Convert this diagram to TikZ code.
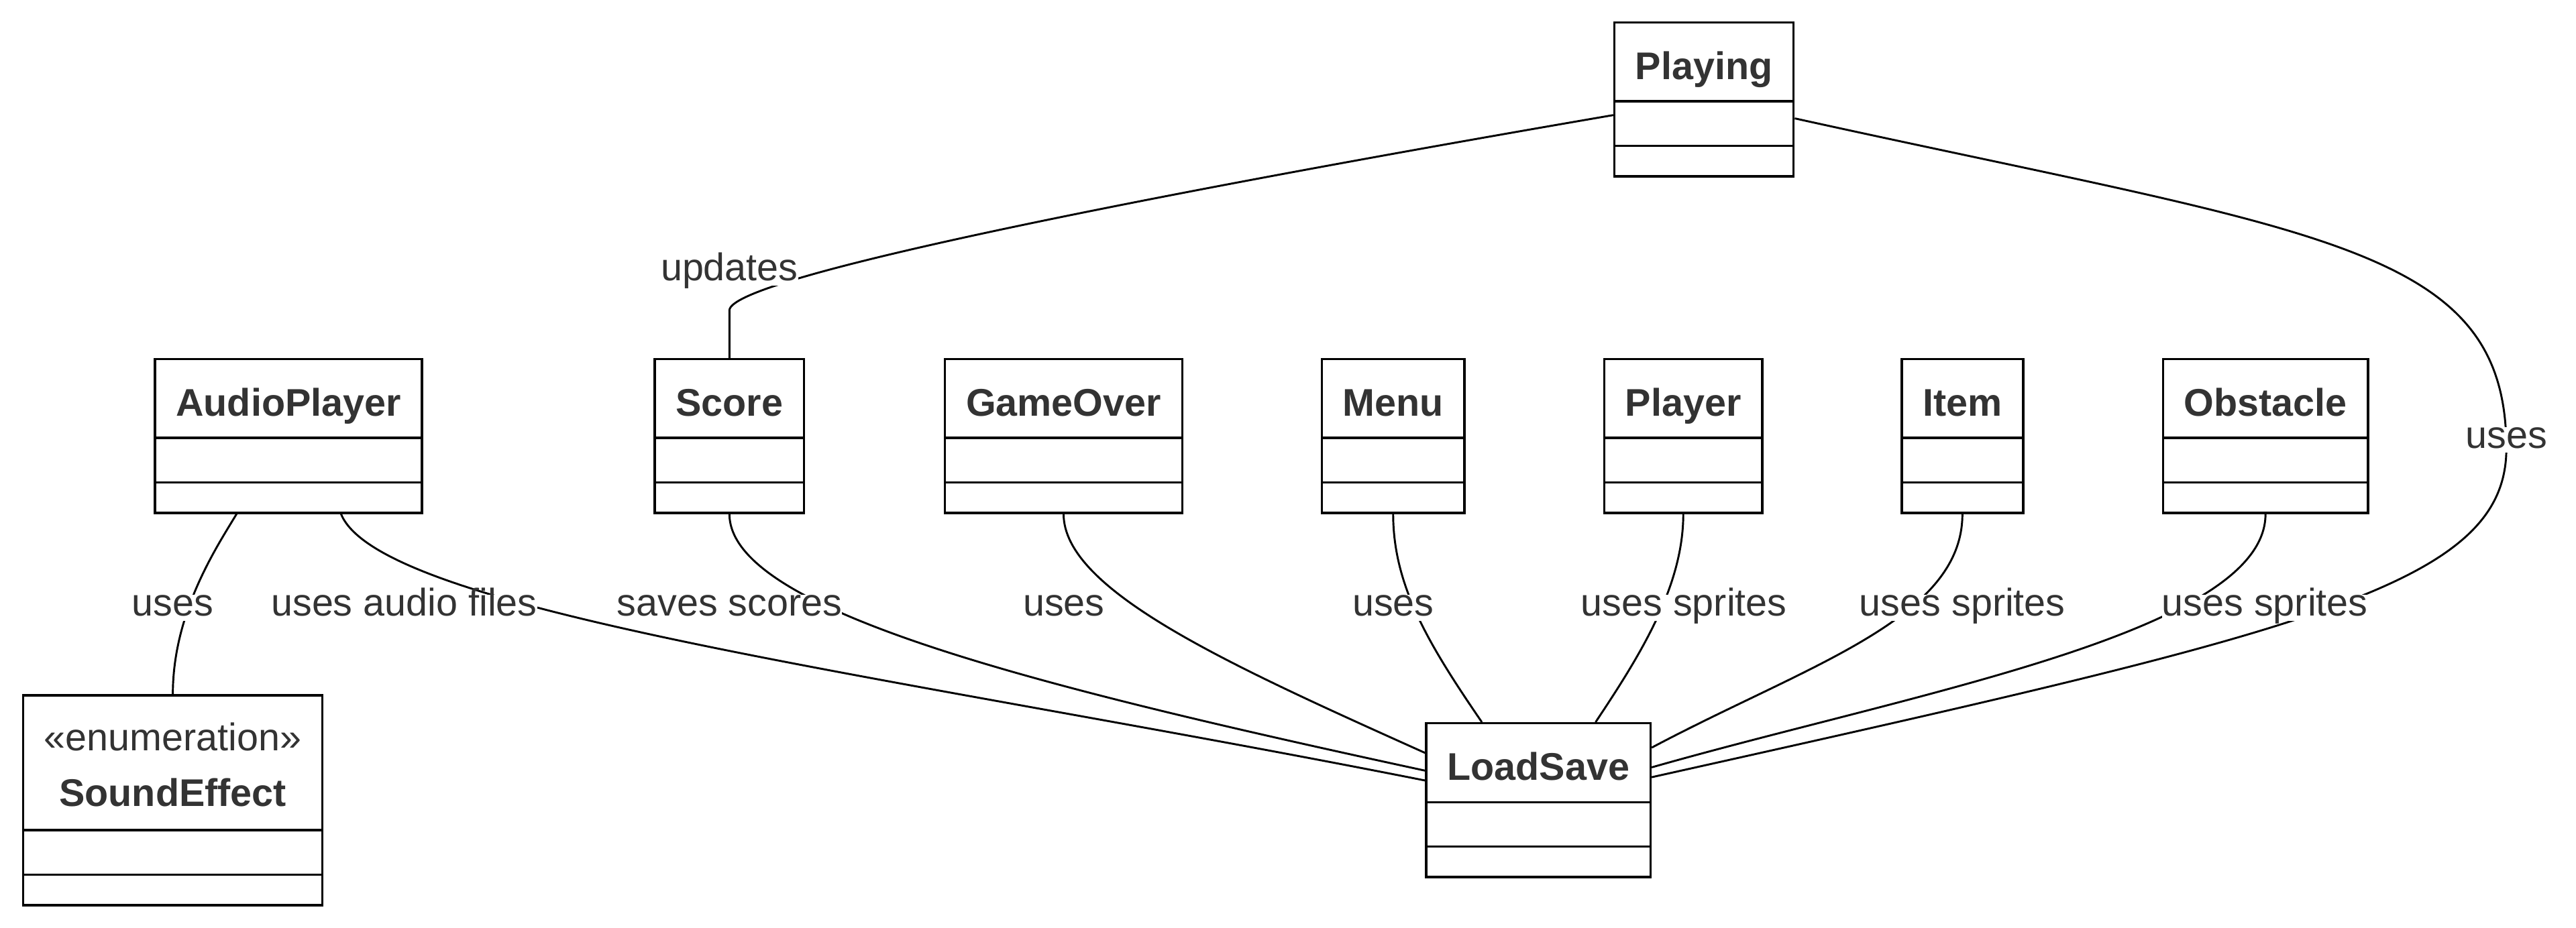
\documentclass[tikz,border=0pt]{standalone}
\usepackage{fontspec}
\setmainfont{Liberation Sans}
\usetikzlibrary{shapes.multipart}
\definecolor{umlText}{HTML}{333333}

% class compartments
\newcommand{\classtitle}[1]{\rule[-0.315cm]{0pt}{1.165cm}\textbf{#1}}
\newcommand{\umlparts}{\nodepart{two}\rule{0pt}{0.64cm}\nodepart{three}\rule{0pt}{0.43cm}}

\begin{document}
\begin{tikzpicture}[
  font=\fontsize{16.7}{20}\selectfont,
  umlclass/.style={draw, line width=1pt, fill=white, rectangle split, rectangle split parts=3,
    inner xsep=0.32cm, inner ysep=0pt, text=umlText, anchor=north},
  edge/.style={line width=0.85pt},
  lbl/.style={fill=white, inner sep=0pt, text height=0.905em, text depth=0.212em, text=umlText, anchor=base}
]

  \path[fill=white] (0,0) rectangle (39.2,14.125);

  % Classes
  \node[umlclass] (playing) at (25.93,13.80) {\classtitle{Playing}\umlparts};

  \foreach \name/\x/\title in {audioplayer/4.39/AudioPlayer, score/11.10/Score, gameover/16.185/GameOver,
      menu/21.20/Menu, player/25.615/Player, item/29.8625/Item, obstacle/34.475/Obstacle} {
    \node[umlclass] (\name) at (\x,8.675) {\classtitle{\title}\umlparts};
  }

  \node[umlclass] (soundeffect) at (2.63,3.555) {%
    \begin{tabular}{@{}c@{}}\rule{0pt}{0.8225cm}«enumeration»\\[0.147cm]\textbf{SoundEffect}\rule[-0.345cm]{0pt}{0.345cm}\end{tabular}\umlparts};
  \node[umlclass] (loadsave) at (23.41,3.13) {\classtitle{LoadSave}\umlparts};

  % ----------------------------------------------------
  % Associations
  % ----------------------------------------------------
  \draw[edge] ([yshift=-0.24cm]playing.west) .. controls (17.55,11.17) and (11.10,9.90) .. (11.10,9.40) -- (score.north);
  \draw[edge] ([yshift=-0.29cm]playing.east) .. controls (35.30,10.56) and (38.14,10.40) .. (38.14,7.30)
    .. controls (38.14,5.20) and (35.12,4.52) .. ([yshift=0.35cm]loadsave.east);

  \draw[edge] ([xshift=-0.79cm]audioplayer.south) .. controls (3.30,5.80) and (2.63,4.80) .. (soundeffect.north);
  \draw[edge] ([xshift=0.80cm]audioplayer.south) .. controls (5.79,4.80) and (13.69,3.83) .. ([yshift=0.30cm]loadsave.west);
  \draw[edge] (score.south) .. controls (11.10,4.84) and (15.69,3.69) .. ([yshift=0.45cm]loadsave.west);
  \draw[edge] (gameover.south) .. controls (16.185,5.135) and (18.69,4.01) .. ([yshift=0.72cm]loadsave.west);
  \draw[edge] (menu.south) .. controls (21.20,5.20) and (21.75,4.30) .. ([xshift=-0.86cm]loadsave.north);
  \draw[edge] (player.south) .. controls (25.615,5.20) and (24.96,4.15) .. ([xshift=0.87cm]loadsave.north);
  \draw[edge] (item.south) .. controls (29.8625,4.70) and (27.50,4.00) .. ([yshift=0.80cm]loadsave.east);
  \draw[edge] (obstacle.south) .. controls (34.475,4.50) and (29.12,3.58) .. ([yshift=0.50cm]loadsave.east);

  % Labels
  \node[lbl] (updatesLbl) at (11.10,9.855) {updates};
  \node[lbl] (playingLbl) at (38.14,7.305) {uses};
  \foreach \name/\x/\text in {soundLbl/2.625/uses, audioLbl/6.15/uses audio files, scoreLbl/11.10/saves scores,
      gameoverLbl/16.19/uses, menuLbl/21.20/uses, playerLbl/25.625/uses sprites,
      itemLbl/29.8625/uses sprites, obstacleLbl/34.465/uses sprites} {
    \node[lbl] (\name) at (\x,4.75) {\text};
  }

\end{tikzpicture}
\end{document}
